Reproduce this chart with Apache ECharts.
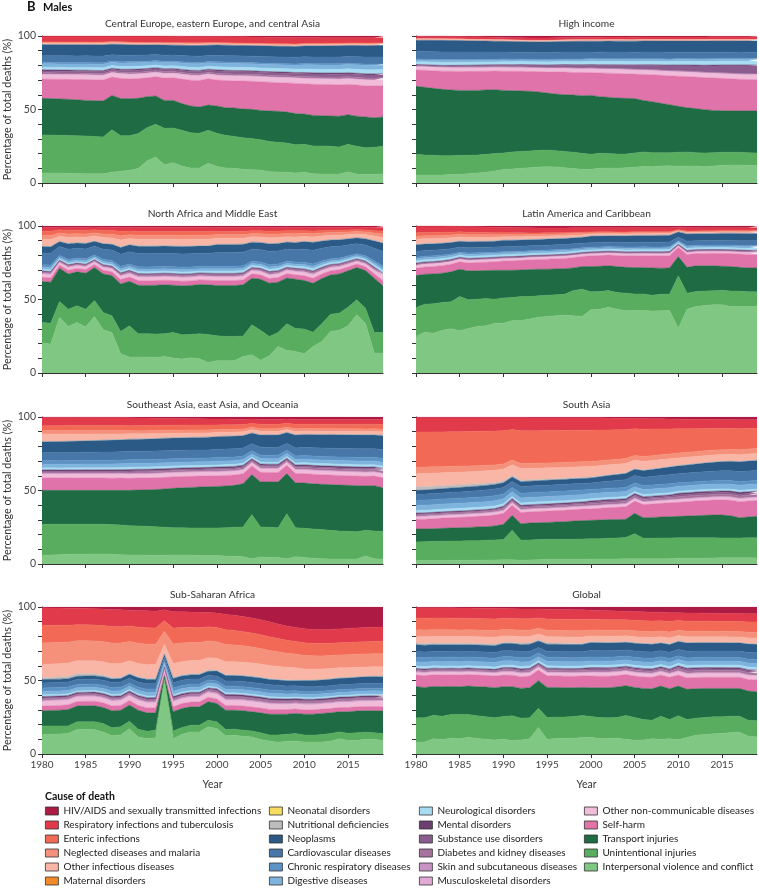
<!DOCTYPE html>
<html><head><meta charset="utf-8">
<script src="https://cdn.jsdelivr.net/npm/echarts/dist/echarts.min.js"></script>
<style>html,body{margin:0;padding:0;background:#fff}#c{width:759px;height:888px}</style>
</head><body><div id="c"></div>
<script>
const years=['1980','1981','1982','1983','1984','1985','1986','1987','1988','1989','1990','1991','1992','1993','1994','1995','1996','1997','1998','1999','2000','2001','2002','2003','2004','2005','2006','2007','2008','2009','2010','2011','2012','2013','2014','2015','2016','2017','2018','2019'];
const absent=[0,0,0,0,0,0,0,0,0,0,0,0,0,0,0,0,0,0,0,0,0,0,0,0,0,0,0,0,0,0,0,0,0,0,0,0,0,0,0,0];

// ---------- Central Europe, eastern Europe, and central Asia ----------
const ce_interp=[6.8,6.8,6.8,6.6,6.4,6.3,6.3,6.3,7.3,8,8.6,9.8,15,17.7,12.5,13.8,11.6,10.2,10.2,13.4,11.3,10.2,10,9.3,9,8.8,7.7,7.5,7.3,6.8,7.3,6.3,6.1,6.1,6.1,7.5,6.1,5.7,5.9,6.1];
const ce_unint=[25.9,25.8,25.6,25.7,25.7,25.7,25.3,25,29,24.2,23.6,23.8,22.6,22.3,24.7,23.6,24.2,24,23.6,22.4,22.5,22.2,21.7,21.5,21.2,20.7,20.6,20.2,19.9,19.2,19,18.9,19.1,18.9,18.4,18.8,18.9,18.3,18.4,18.9];
const ce_transport=[24.9,24.8,24.8,24.7,24.5,24.2,24.4,24.5,23.3,25.2,25.2,24,21.1,19.2,19,18.8,18.2,18.2,17.9,17.2,18.6,18.8,19.3,19.5,19.9,19.9,20.7,21.1,21.1,21.2,20.6,20.8,20.6,20.6,20.9,20.2,20.4,20.9,20.1,19.9];
const ce_selfharm=[13.1,13.2,13.3,13.4,13.7,14.1,14,14,13.2,14,14,14.1,13.9,14.5,16.4,16.8,17.7,18.1,18.6,19.1,19,19.8,19.7,20.4,20.4,20.6,20.6,20.4,20.6,21.3,21.6,22,22,22,21.9,21.3,21.7,21.3,21.6,21.3];
const ce_otherNcd=[3,3,3,3,3,3,3,3,3,3.1,3.1,3.1,3.2,3.2,3.2,3.2,3.3,3.3,3.3,3.3,3.4,3.4,3.4,3.5,3.5,3.5,3.5,3.6,3.6,3.6,3.7,3.7,3.7,3.7,3.8,3.8,3.8,3.8,3.8,3.8];
const ce_musculo=[0.2,0.2,0.2,0.2,0.2,0.2,0.2,0.2,0.2,0.2,0.2,0.2,0.2,0.2,0.2,0.2,0.2,0.2,0.2,0.2,0.2,0.2,0.2,0.2,0.2,0.2,0.2,0.2,0.2,0.2,0.2,0.2,0.2,0.2,0.2,0.2,0.2,0.2,0.2,0.2];
const ce_skin=[0.1,0.1,0.1,0.1,0.1,0.1,0.1,0.1,0.1,0.1,0.1,0.1,0.1,0.1,0.1,0.1,0.1,0.1,0.1,0.1,0.1,0.1,0.1,0.1,0.1,0.1,0.1,0.1,0.1,0.1,0.1,0.1,0.1,0.1,0.1,0.1,0.1,0.1,0.1,0.1];
const ce_diabetes=[1,1,1,1,1,1,1,1,1,1,1.1,1.1,1.1,1.1,1.1,1.1,1.1,1.1,1.1,1.1,1.2,1.2,1.2,1.2,1.2,1.2,1.2,1.2,1.2,1.2,1.3,1.3,1.3,1.3,1.3,1.3,1.3,1.3,1.3,1.3];
const ce_substance=[1.2,1.2,1.2,1.2,1.2,1.2,1.2,1.2,1.2,1.2,1.5,1.5,1.5,1.5,1.5,1.5,1.5,1.5,1.5,1.5,1.8,1.8,1.8,1.8,1.8,1.8,1.8,1.8,1.8,1.8,2,2,2,2,2,2,2,2,2,2];
const ce_mental=[0.8,0.8,0.8,0.8,0.8,0.8,0.8,0.8,0.8,0.8,0.8,0.8,0.8,0.8,0.8,0.8,0.8,0.8,0.8,0.8,0.8,0.8,0.8,0.8,0.8,0.8,0.8,0.8,0.8,0.8,0.8,0.8,0.8,0.8,0.8,0.8,0.8,0.8,0.8,0.8];
const ce_neuro=[1.8,1.8,1.8,1.8,1.8,1.9,1.9,1.9,1.9,1.9,2,2,2,2,2,2.1,2.1,2.1,2.1,2.1,2.3,2.3,2.3,2.3,2.3,2.4,2.4,2.4,2.4,2.4,2.6,2.6,2.6,2.6,2.6,2.8,2.8,2.8,2.8,2.8];
const ce_digestive=[2.3,2.3,2.3,2.3,2.3,2.3,2.3,2.3,2.3,2.3,2.5,2.5,2.5,2.5,2.5,2.5,2.5,2.5,2.5,2.5,2.7,2.7,2.7,2.7,2.7,2.7,2.7,2.7,2.7,2.7,3,3,3,3,3,3,3,3,3,3];
const ce_chronic=[1,1,1,1,1,1,1,1,1,1,0.9,0.9,0.9,0.9,0.9,0.9,0.9,0.9,0.9,0.9,0.9,0.9,0.9,0.9,0.9,0.9,0.9,0.9,0.9,0.9,0.8,0.8,0.8,0.8,0.8,0.8,0.8,0.8,0.8,0.8];
const ce_cardio=[4.5,4.5,4.5,4.5,4.5,4.5,4.5,4.5,4.5,4.5,4.5,4.5,4.5,4.5,4.5,4.5,4.5,4.5,4.5,4.5,4.7,4.7,4.7,4.7,4.7,4.7,4.7,4.7,4.7,4.7,4.8,4.8,4.8,4.8,4.8,4.8,4.8,4.8,4.8,4.8];
const ce_neoplasms=[7.5,7.5,7.5,7.5,7.5,7.5,7.5,7.5,7.5,7.5,7.4,7.4,7.4,7.4,7.4,7.4,7.4,7.4,7.4,7.4,7.6,7.6,7.6,7.6,7.6,7.6,7.6,7.6,7.6,7.6,7.8,7.8,7.8,7.8,7.8,7.8,7.8,7.8,7.8,7.8];
const ce_nutritional=[0.1,0.1,0.1,0.1,0.1,0.1,0.1,0.1,0.1,0.1,0.1,0.1,0.1,0.1,0.1,0.1,0.1,0.1,0.1,0.1,0.1,0.1,0.1,0.1,0.1,0.1,0.1,0.1,0.1,0.1,0.1,0.1,0.1,0.1,0.1,0.1,0.1,0.1,0.1,0.1];
const ce_otherInf=[1.3,1.3,1.3,1.3,1.3,1.3,1.3,1.3,1.3,1.3,1.3,1.3,1.3,1.3,1.3,1.3,1.3,1.3,1.3,1.3,1.2,1.2,1.2,1.2,1.2,1.2,1.2,1.2,1.2,1.2,1.2,1.2,1.2,1.2,1.2,1.2,1.2,1.2,1.2,1.2];
const ce_neglected=[0.2,0.2,0.2,0.2,0.2,0.2,0.2,0.2,0.2,0.2,0.2,0.2,0.2,0.2,0.2,0.2,0.2,0.2,0.2,0.2,0.2,0.2,0.2,0.2,0.2,0.2,0.2,0.2,0.2,0.2,0.2,0.2,0.2,0.2,0.2,0.2,0.2,0.2,0.2,0.2];
const ce_enteric=[0.3,0.3,0.3,0.3,0.3,0.3,0.3,0.3,0.3,0.3,0.3,0.3,0.3,0.3,0.3,0.3,0.3,0.3,0.3,0.3,0.3,0.3,0.3,0.3,0.3,0.3,0.3,0.3,0.3,0.3,0.3,0.3,0.3,0.3,0.3,0.3,0.3,0.3,0.3,0.3];
const ce_resp=[4,4,4,4,4,4,4,4,4,4,4.3,4.5,4.7,4.8,4.8,4.8,4.7,4.6,4.6,4.5,4.5,4.5,4.5,4.5,4.5,4.5,4.5,4.5,4.5,4.5,4.2,4.1,4,3.9,3.8,3.7,3.6,3.6,3.5,3.5];
const ce_hiv=[0,0,0,0,0,0,0,0,0,0,0,0,0,0,0,0.1,0.1,0.2,0.2,0.3,0.3,0.4,0.5,0.6,0.7,0.8,0.9,1,1,1.1,1.1,1.1,1.2,1.2,1.2,1.2,1.2,1.2,1.2,1.2];

// ---------- High income ----------
const hi_interp=[5.4,5.4,5.4,5.4,5.7,5.9,6.3,6.8,7.3,8.2,9.1,9.5,10,10.4,10.9,11.1,10.9,10.4,9.8,9.3,9.3,10,10.2,10,10.4,10.7,11.3,11.1,11.6,11.8,11.3,11.6,11.6,11.1,11.6,12,12.2,12.2,12,12];
const hi_unint=[14.1,13.6,13.4,13.2,12.9,12.9,12.5,12.2,12.2,11.8,11.3,11.6,11.5,11.4,11.3,11.3,11.1,11.1,11.1,10.9,10.2,10.2,9.8,9.7,9.3,9.7,9.8,9.5,9,8.8,9.6,9.5,9,9.3,9,8.9,8.7,8.7,8.6,8.4];
const hi_transport=[46.3,46.1,45.6,45.1,44.7,44.2,44.2,44,43.8,43.5,42.6,41.7,41.1,40.6,39.7,38.8,38.5,38.6,39,39.2,40.1,38.5,38.3,38.1,37.9,37,35.1,34.7,33.6,32.7,31.3,30.1,30,29.5,28.8,28.3,28.1,28.1,28.4,28.6];
const hi_selfharm=[11.3,11.8,12,12.3,12.7,13,13.2,13.4,13.3,13.4,13.9,14.1,14.5,14.7,15,15.4,16.1,16.5,16.3,16.6,16.4,17,17.2,17.5,17.4,17.4,18.4,19.1,19.8,20.2,21.1,21.8,22,22.2,22.5,22.5,22.4,22.2,22,21.7];
const hi_otherNcd=[2.3,2.3,2.3,2.3,2.3,2.4,2.4,2.4,2.4,2.4,2.5,2.5,2.5,2.5,2.5,2.6,2.6,2.6,2.6,2.6,2.7,2.7,2.7,2.8,2.8,2.8,2.9,2.9,2.9,3,3,3,3,3.1,3.1,3.1,3.2,3.2,3.2,3.2];
const hi_musculo=[0.2,0.2,0.2,0.2,0.2,0.2,0.2,0.2,0.2,0.2,0.2,0.2,0.2,0.2,0.2,0.2,0.2,0.2,0.2,0.2,0.2,0.2,0.2,0.2,0.2,0.2,0.2,0.2,0.2,0.2,0.2,0.2,0.2,0.2,0.2,0.2,0.2,0.2,0.2,0.2];
const hi_skin=[0.1,0.1,0.1,0.1,0.1,0.1,0.1,0.1,0.1,0.1,0.1,0.1,0.1,0.1,0.1,0.1,0.1,0.1,0.1,0.1,0.1,0.1,0.1,0.1,0.1,0.1,0.1,0.1,0.1,0.1,0.1,0.1,0.1,0.1,0.1,0.1,0.1,0.1,0.1,0.1];
const hi_diabetes=[0.5,0.5,0.5,0.5,0.5,0.5,0.5,0.5,0.5,0.5,0.5,0.5,0.5,0.5,0.5,0.5,0.5,0.5,0.5,0.5,0.5,0.5,0.5,0.5,0.5,0.5,0.5,0.5,0.5,0.5,0.5,0.5,0.5,0.5,0.5,0.5,0.5,0.5,0.5,0.5];
const hi_substance=[0.3,0.3,0.4,0.4,0.5,0.6,0.7,0.8,0.9,0.9,1,1.1,1.2,1.3,1.3,1.4,1.5,1.6,1.7,1.8,1.8,1.9,2,2.1,2.3,2.5,2.7,2.9,3.1,3.3,3.5,3.7,3.9,4.1,4.4,4.8,5.1,5.4,5.5,5.5];
const hi_mental=[0.4,0.4,0.4,0.4,0.4,0.4,0.4,0.4,0.4,0.4,0.4,0.4,0.4,0.4,0.4,0.5,0.5,0.5,0.5,0.5,0.5,0.5,0.5,0.5,0.5,0.5,0.5,0.5,0.5,0.5,0.6,0.6,0.6,0.6,0.6,0.6,0.6,0.6,0.6,0.6];
const hi_neuro=[2,2,2,2,2,2,2,2,2,2,2.2,2.2,2.2,2.2,2.2,2.2,2.2,2.2,2.2,2.2,2.4,2.4,2.4,2.4,2.4,2.4,2.4,2.4,2.4,2.4,2.6,2.6,2.6,2.6,2.6,2.7,2.7,2.7,2.7,2.7];
const hi_digestive=[1.3,1.3,1.3,1.3,1.3,1.3,1.3,1.3,1.3,1.3,1.3,1.3,1.3,1.3,1.3,1.3,1.3,1.3,1.3,1.3,1.3,1.3,1.3,1.3,1.3,1.3,1.3,1.3,1.3,1.3,1.3,1.3,1.3,1.3,1.3,1.3,1.3,1.3,1.3,1.3];
const hi_chronic=[0.6,0.6,0.6,0.6,0.6,0.6,0.6,0.6,0.6,0.6,0.6,0.6,0.6,0.6,0.6,0.6,0.6,0.6,0.6,0.6,0.6,0.6,0.6,0.6,0.6,0.6,0.6,0.6,0.6,0.6,0.6,0.6,0.6,0.6,0.6,0.6,0.6,0.6,0.6,0.6];
const hi_cardio=[5.2,5.2,5.2,5.2,5.2,5.2,5.2,5.2,5.2,5.2,5,5,5,5,5,5,5,5,5,5,4.7,4.7,4.7,4.7,4.7,4.7,4.7,4.7,4.7,4.7,4.4,4.4,4.4,4.4,4.4,4.3,4.3,4.3,4.3,4.3];
const hi_neoplasms=[7.8,7.8,7.8,7.8,7.8,7.8,7.8,7.8,7.8,7.8,7.8,7.8,7.8,7.8,7.8,7.8,7.8,7.8,7.8,7.8,7.8,7.8,7.8,7.8,7.8,7.8,7.8,7.8,7.8,7.8,7.8,7.8,7.8,7.8,7.8,7.8,7.8,7.8,7.8,7.8];
const hi_nutritional=[0.05,0.05,0.05,0.05,0.05,0.05,0.05,0.05,0.05,0.05,0.05,0.05,0.05,0.05,0.05,0.05,0.05,0.05,0.05,0.05,0.05,0.05,0.05,0.05,0.05,0.05,0.05,0.05,0.05,0.05,0.05,0.05,0.05,0.05,0.05,0.05,0.05,0.05,0.05,0.05];
const hi_otherInf=[1,1,1,1,1,1,1,1,1,1,1,1,1,1,1,1,1,1,1,1,1,1,1,1,1,1,1,1,1,1,1,1,1,1,1,1,1,1,1,1];
const hi_neglected=[0.1,0.1,0.1,0.1,0.1,0.1,0.1,0.1,0.1,0.1,0.1,0.1,0.1,0.1,0.1,0.1,0.1,0.1,0.1,0.1,0.1,0.1,0.1,0.1,0.1,0.1,0.1,0.1,0.1,0.1,0.1,0.1,0.1,0.1,0.1,0.1,0.1,0.1,0.1,0.1];
const hi_enteric=[0.1,0.1,0.1,0.1,0.1,0.1,0.1,0.1,0.1,0.1,0.1,0.1,0.1,0.1,0.1,0.1,0.1,0.1,0.1,0.1,0.1,0.1,0.1,0.1,0.1,0.1,0.1,0.1,0.1,0.1,0.1,0.1,0.1,0.1,0.1,0.1,0.1,0.1,0.1,0.1];
const hi_resp=[1.6,1.6,1.6,1.6,1.6,1.6,1.6,1.6,1.6,1.6,1.6,1.6,1.6,1.6,1.6,1.6,1.6,1.6,1.6,1.6,1.6,1.6,1.6,1.6,1.6,1.6,1.6,1.6,1.6,1.6,1.6,1.6,1.6,1.6,1.6,1.6,1.6,1.6,1.6,1.6];
const hi_hiv=[0.1,0.1,0.1,0.1,0.2,0.3,0.5,0.6,0.7,0.9,1,1.2,1.3,1.5,1.5,1.5,1.3,1.1,1,0.9,0.9,0.9,0.8,0.8,0.8,0.8,0.7,0.7,0.7,0.7,0.7,0.7,0.7,0.7,0.6,0.6,0.6,0.6,0.6,0.6];

// ---------- North Africa and Middle East ----------
const na_interp=[20.4,19.7,38,31.7,34.4,31.4,38.5,29.4,27.6,13.1,10.9,10.9,10.9,10.6,11.3,10.2,9.5,10.4,9.7,7.2,8.4,8.4,8.4,11.3,12.4,8.6,11.8,18.1,15.4,14.7,13.1,18.1,21.5,28.3,29,32.1,39.6,33.9,13.6,13.6];
const na_unint=[14,14.2,10.6,11.7,11.3,12,10.8,11.8,11.3,15.2,21.2,15.8,15.8,15.9,15.4,17.4,16.5,15.8,17,19,16.9,16.5,16.5,13.8,20.4,20.4,13.1,9.5,18.1,15.6,16.8,9.7,12,11.7,11.7,12.7,10.2,10.2,14,14];
const na_transport=[27.8,27.9,22.7,24,23.1,24.5,22.4,26.2,27.4,32.3,30.3,33,32.8,33.2,33.3,32.1,33.3,33.3,33.5,33.8,34.2,34.6,34.6,34.9,31.7,34.8,36.2,34.2,31.2,33.5,33,33.3,30.8,26.7,26.7,24.7,21.9,25.6,36.9,31.7];
const na_selfharm=[2.9,2.9,2.9,2.9,2.9,2.9,2.9,2.9,2.9,2.9,3,3,3,3,3,3,3,3,3,3,3.2,3.2,3.2,3.2,3.2,3.2,3.2,3.2,3.2,3.2,3.4,3.4,3.4,3.4,3.4,3.4,3.4,3.4,3.4,3.4];
const na_otherNcd=[2.3,2.3,2.3,2.3,2.3,2.3,2.3,2.3,2.3,2.3,2.3,2.3,2.3,2.3,2.3,2.3,2.3,2.3,2.3,2.3,2.4,2.4,2.4,2.4,2.4,2.4,2.4,2.4,2.4,2.4,2.5,2.5,2.5,2.5,2.5,2.5,2.5,2.5,2.5,2.5];
const na_musculo=[0.2,0.2,0.2,0.2,0.2,0.2,0.2,0.2,0.2,0.2,0.2,0.2,0.2,0.2,0.2,0.2,0.2,0.2,0.2,0.2,0.2,0.2,0.2,0.2,0.2,0.2,0.2,0.2,0.2,0.2,0.2,0.2,0.2,0.2,0.2,0.2,0.2,0.2,0.2,0.2];
const na_skin=[0.2,0.2,0.2,0.2,0.2,0.2,0.2,0.2,0.2,0.2,0.2,0.2,0.2,0.2,0.2,0.2,0.2,0.2,0.2,0.2,0.2,0.2,0.2,0.2,0.2,0.2,0.2,0.2,0.2,0.2,0.2,0.2,0.2,0.2,0.2,0.2,0.2,0.2,0.2,0.2];
const na_diabetes=[0.8,0.8,0.8,0.8,0.8,0.8,0.8,0.8,0.8,0.8,0.9,0.9,0.9,0.9,0.9,0.9,0.9,0.9,0.9,0.9,0.9,0.9,0.9,0.9,0.9,0.9,0.9,0.9,0.9,0.9,1,1,1,1,1,1,1,1,1,1];
const na_substance=[0.4,0.4,0.4,0.4,0.4,0.4,0.4,0.4,0.4,0.4,0.5,0.5,0.5,0.5,0.5,0.5,0.5,0.5,0.5,0.5,0.5,0.5,0.5,0.5,0.5,0.5,0.5,0.5,0.5,0.5,0.6,0.6,0.6,0.6,0.6,0.6,0.6,0.6,0.6,0.6];
const na_mental=[0.5,0.5,0.5,0.5,0.5,0.5,0.5,0.5,0.5,0.5,0.5,0.5,0.5,0.5,0.5,0.5,0.5,0.5,0.5,0.5,0.5,0.5,0.5,0.5,0.5,0.5,0.5,0.5,0.5,0.5,0.5,0.5,0.5,0.5,0.5,0.5,0.5,0.5,0.5,0.5];
const na_neuro=[1.2,1.2,1.2,1.2,1.2,1.2,1.2,1.2,1.2,1.2,1.3,1.3,1.3,1.3,1.3,1.3,1.3,1.3,1.3,1.3,1.5,1.5,1.5,1.5,1.5,1.5,1.5,1.5,1.5,1.5,1.6,1.6,1.6,1.6,1.6,1.6,1.6,1.6,1.6,1.6];
const na_digestive=[1.5,1.5,1.5,1.5,1.5,1.5,1.5,1.5,1.5,1.5,1.5,1.5,1.5,1.5,1.5,1.5,1.5,1.5,1.5,1.5,1.5,1.5,1.5,1.5,1.5,1.5,1.5,1.5,1.5,1.5,1.5,1.5,1.5,1.5,1.5,1.5,1.5,1.5,1.5,1.5];
const na_chronic=[1.6,1.6,1.6,1.6,1.6,1.6,1.6,1.6,1.6,1.6,1.6,1.6,1.6,1.6,1.6,1.6,1.6,1.6,1.6,1.6,1.6,1.6,1.6,1.6,1.6,1.6,1.6,1.6,1.6,1.6,1.6,1.6,1.6,1.6,1.6,1.6,1.6,1.6,1.6,1.6];
const na_cardio=[8,8,8,8,8,8,8,8,8,8,8.5,8.5,8.5,8.5,8.5,8.5,8.5,8.5,8.5,8.5,9,9,9,9,9,9,9,9,9,9,9.5,9.5,9.5,9.5,9.5,9.5,9.5,9.5,9.5,9.5];
const na_neoplasms=[4.5,4.5,4.5,4.5,4.5,4.5,4.5,4.5,4.5,4.5,4.8,4.8,4.8,4.8,4.8,4.8,4.8,4.8,4.8,4.8,5.2,5.2,5.2,5.2,5.2,5.2,5.2,5.2,5.2,5.2,5.5,5.5,5.5,5.5,5.5,5.5,5.5,5.5,5.5,5.5];
const na_nutritional=[0.4,0.4,0.4,0.4,0.4,0.4,0.4,0.4,0.4,0.4,0.3,0.3,0.3,0.3,0.3,0.3,0.3,0.3,0.3,0.3,0.2,0.2,0.2,0.2,0.2,0.2,0.2,0.2,0.2,0.2,0.2,0.2,0.2,0.2,0.2,0.2,0.2,0.2,0.2,0.2];
const na_otherInf=[4.5,4.5,4.5,4.5,4.5,4.5,4.5,4.5,4.5,4.5,4.2,4.2,4.2,4.2,4.2,4.2,4.2,4.2,4.2,4.2,3.8,3.8,3.8,3.8,3.8,3.8,3.8,3.8,3.8,3.8,3.5,3.5,3.5,3.5,3.5,3.5,3.5,3.5,3.5,3.5];
const na_neglected=[2.8,2.8,2.8,2.8,2.8,2.8,2.8,2.8,2.8,2.8,2.6,2.6,2.6,2.6,2.6,2.6,2.6,2.6,2.6,2.6,2.4,2.4,2.4,2.4,2.4,2.4,2.4,2.4,2.4,2.4,2.2,2.2,2.2,2.2,2.2,2.2,2.2,2.2,2.2,2.2];
const na_enteric=[2.9,2.9,2.9,2.9,2.9,2.9,2.9,2.9,2.9,2.9,2.5,2.5,2.5,2.5,2.5,2.5,2.5,2.5,2.5,2.5,2.1,2.1,2.1,2.1,2.1,2.1,2.1,2.1,2.1,2.1,1.8,1.8,1.8,1.8,1.8,1.8,1.8,1.8,1.8,1.8];
const na_resp=[2.5,2.5,2.5,2.5,2.5,2.5,2.5,2.5,2.5,2.5,2.5,2.5,2.5,2.5,2.5,2.5,2.5,2.5,2.5,2.5,2.5,2.5,2.5,2.5,2.5,2.5,2.5,2.5,2.5,2.5,2.5,2.5,2.5,2.5,2.5,2.5,2.5,2.5,2.5,2.5];
const na_hiv=[1,1,1,1,1,1,1,1,1,1,1,1,1,1,1,1,1,1,1,1,1,1,1,1,1,1,1,1,1,1,1,1,1,1,1,1,1,1,1,1];

// ---------- Latin America and Caribbean ----------
const la_interp=[24.9,27.8,27.1,29,30.1,28.7,30.3,31.7,32.1,33.9,33.9,35.7,35.7,36.7,38,38.5,38.9,39.4,38.9,38.5,43,43.4,44.8,43.4,42.3,42.5,42.5,42.1,42.3,42.5,30.5,43.4,45.2,45.9,46.4,46.4,45.2,45.2,45.2,45.2];
const la_unint=[19.7,19,20,19,18.3,23.3,19.5,18.5,18.6,16.3,17.2,15.7,16.3,15.3,14.5,14.4,14.3,14.2,17.2,18.5,12.2,12,11.3,11.4,12,11.3,11.3,10.8,11.3,11.1,35.6,10.9,10.2,9.8,9.5,9.9,10.5,10.5,10,10];
const la_transport=[21.7,20.4,20.3,19.9,20.4,18.6,19.6,19.4,19,19.7,18.8,18.5,18.1,18.4,18.1,17.7,17.6,17.4,15.4,15.4,17.2,17.2,16.8,17.6,17.6,17.9,17.9,18.6,17.7,17.9,13.1,17.6,17.5,17.2,17,16.3,16.7,16.2,16.3,16.3];
const la_selfharm=[5,5.1,5.2,5.4,5.6,5.8,6,6.2,6.4,6.7,7,7.2,7.4,7.6,7.7,7.8,7.9,8,8.2,8.3,8.5,8.6,8.7,8.8,8.9,9,9.1,9.2,9.3,9.4,9.5,9.6,9.6,9.7,9.8,9.8,9.9,9.9,10,10];
const la_otherNcd=[1.8,1.8,1.8,1.8,1.8,1.8,1.8,1.8,1.8,1.8,1.6,1.6,1.6,1.6,1.6,1.6,1.6,1.6,1.6,1.6,1.5,1.5,1.5,1.5,1.5,1.5,1.5,1.5,1.5,1.5,1.3,1.3,1.3,1.3,1.3,1.3,1.3,1.3,1.3,1.3];
const la_musculo=[0.2,0.2,0.2,0.2,0.2,0.2,0.2,0.2,0.2,0.2,0.2,0.2,0.2,0.2,0.2,0.2,0.2,0.2,0.2,0.2,0.2,0.2,0.2,0.2,0.2,0.2,0.2,0.2,0.2,0.2,0.2,0.2,0.2,0.2,0.2,0.2,0.2,0.2,0.2,0.2];
const la_skin=[0.1,0.1,0.1,0.1,0.1,0.1,0.1,0.1,0.1,0.1,0.1,0.1,0.1,0.1,0.1,0.1,0.1,0.1,0.1,0.1,0.1,0.1,0.1,0.1,0.1,0.1,0.1,0.1,0.1,0.1,0.1,0.1,0.1,0.1,0.1,0.1,0.1,0.1,0.1,0.1];
const la_diabetes=[0.6,0.6,0.6,0.6,0.6,0.6,0.6,0.6,0.6,0.6,0.6,0.6,0.6,0.6,0.6,0.6,0.6,0.6,0.6,0.6,0.6,0.6,0.6,0.6,0.6,0.6,0.6,0.6,0.6,0.6,0.6,0.6,0.6,0.6,0.6,0.6,0.6,0.6,0.6,0.6];
const la_substance=[0.3,0.3,0.3,0.3,0.3,0.3,0.3,0.3,0.3,0.3,0.3,0.3,0.3,0.3,0.3,0.3,0.3,0.3,0.3,0.3,0.3,0.3,0.3,0.3,0.3,0.3,0.3,0.3,0.3,0.3,0.3,0.3,0.3,0.3,0.3,0.3,0.3,0.3,0.3,0.3];
const la_mental=[0.5,0.5,0.5,0.5,0.5,0.5,0.5,0.5,0.5,0.5,0.5,0.5,0.5,0.5,0.5,0.5,0.5,0.5,0.5,0.5,0.5,0.5,0.5,0.5,0.5,0.5,0.5,0.5,0.5,0.5,0.5,0.5,0.5,0.5,0.5,0.5,0.5,0.5,0.5,0.5];
const la_neuro=[1.5,1.5,1.5,1.5,1.5,1.5,1.5,1.5,1.5,1.5,1.5,1.5,1.5,1.5,1.5,1.5,1.5,1.5,1.5,1.5,1.5,1.5,1.5,1.5,1.5,1.5,1.5,1.5,1.5,1.5,1.5,1.5,1.5,1.5,1.5,1.5,1.5,1.5,1.5,1.5];
const la_digestive=[1.5,1.5,1.5,1.5,1.5,1.5,1.5,1.5,1.5,1.5,1.4,1.4,1.4,1.4,1.4,1.4,1.4,1.4,1.4,1.4,1.3,1.3,1.3,1.3,1.3,1.3,1.3,1.3,1.3,1.3,1.2,1.2,1.2,1.2,1.2,1.2,1.2,1.2,1.2,1.2];
const la_chronic=[1,1,1,1,1,1,1,1,1,1,0.9,0.9,0.9,0.9,0.9,0.9,0.9,0.9,0.9,0.9,0.9,0.9,0.9,0.9,0.9,0.9,0.9,0.9,0.9,0.9,0.8,0.8,0.8,0.8,0.8,0.8,0.8,0.8,0.8,0.8];
const la_cardio=[4,4,4,4,4,4,4,4,4,4,3.8,3.8,3.8,3.8,3.8,3.8,3.8,3.8,3.8,3.8,3.6,3.6,3.6,3.6,3.6,3.6,3.6,3.6,3.6,3.6,3.5,3.5,3.5,3.5,3.5,3.5,3.5,3.5,3.5,3.5];
const la_neoplasms=[4.5,4.5,4.5,4.5,4.5,4.5,4.5,4.5,4.5,4.5,4.8,4.8,4.8,4.8,4.8,4.8,4.8,4.8,4.8,4.8,5.2,5.2,5.2,5.2,5.2,5.2,5.2,5.2,5.2,5.2,5.5,5.5,5.5,5.5,5.5,5.5,5.5,5.5,5.5,5.5];
const la_nutritional=[0.4,0.4,0.4,0.4,0.4,0.4,0.4,0.4,0.4,0.4,0.3,0.3,0.3,0.3,0.3,0.3,0.3,0.3,0.3,0.3,0.2,0.2,0.2,0.2,0.2,0.2,0.2,0.2,0.2,0.2,0.1,0.1,0.1,0.1,0.1,0.1,0.1,0.1,0.1,0.1];
const la_otherInf=[3.5,3.4,3.3,3.2,3.1,3,2.9,2.8,2.7,2.6,2.5,2.4,2.3,2.2,2.1,2,1.9,1.8,1.7,1.6,1.5,1.5,1.4,1.4,1.3,1.3,1.2,1.2,1.1,1.1,1,1,1,1,1,1,1,1,1,1];
const la_neglected=[2,2,2,2,2,2,2,2,2,2,1.5,1.5,1.5,1.5,1.5,1.5,1.5,1.5,1.5,1.5,0.9,0.9,0.9,0.9,0.9,0.9,0.9,0.9,0.9,0.9,0.5,0.5,0.5,0.5,0.5,0.5,0.5,0.5,0.5,0.5];
const la_enteric=[2.5,2.4,2.3,2.2,2.1,2,1.9,1.8,1.7,1.6,1.5,1.5,1.4,1.3,1.2,1.1,1,0.9,0.8,0.8,0.7,0.7,0.7,0.6,0.6,0.6,0.6,0.5,0.5,0.5,0.5,0.5,0.5,0.5,0.5,0.5,0.5,0.5,0.5,0.5];
const la_resp=[4.5,4.5,4.5,4.5,4.5,4.3,4.3,4.3,4.3,4.3,4,4,4,4,4,3.7,3.7,3.7,3.7,3.7,3.3,3.3,3.3,3.3,3.3,3,3,3,3,3,2.5,2.5,2.5,2.5,2.5,2.1,2.1,2.1,2.1,2.1];
const la_hiv=[0,0,0,0,0.1,0.2,0.4,0.6,0.8,1,1.1,1.2,1.3,1.4,1.5,1.5,1.5,1.5,1.4,1.4,1.4,1.4,1.4,1.4,1.4,1.4,1.4,1.4,1.4,1.4,1.3,1.3,1.3,1.3,1.3,1.3,1.3,1.3,1.3,1.3];

// ---------- Southeast Asia, east Asia, and Oceania ----------
const se_interp=[5.9,6.1,6.3,6.6,6.6,6.6,6.8,6.8,6.6,6.3,6.1,6.1,5.9,5.9,5.9,6.1,6.1,6.1,5.7,5.7,5.7,5.4,5.2,5,3.6,4.8,4.5,4.5,3.6,5,4.5,3.9,3.6,3.4,3.4,3.4,3.4,5.4,3.6,3.2];
const se_unint=[21.1,20.9,20.7,20.4,20.4,20.4,20.2,20.2,20.2,20.2,20,19.8,19.7,19.5,19.1,18.6,18.6,18.4,18.8,18.8,18.8,19.3,19.8,20.2,30,20.4,20.5,20.2,30.6,19.7,19.8,19.9,19.8,19.5,19,18.8,18.6,17.5,18.8,19];
const se_transport=[23.1,23.1,23.1,23.1,23.1,23.1,23.1,23.1,23.3,23.6,24,24.4,24.8,25.2,26,26.8,27.1,27.6,27.9,28.1,28.3,28.4,28.5,29.4,27.2,30.6,30.8,31.1,27.3,30.4,30.8,30.8,30.8,31.1,31.3,31.3,31.3,30.2,30.9,29.7];
const se_selfharm=[8.6,8.6,8.5,8.5,8.4,8.4,8.3,8.3,8.2,8.2,8.1,8.1,8,8,7.9,7.8,7.8,7.7,7.6,7.6,7.5,7.5,7.4,7.4,7.3,7.3,7.2,7.2,7.1,7.1,7,7,7,6.9,6.9,6.9,6.8,6.8,6.8,6.8];
const se_otherNcd=[2.7,2.7,2.7,2.7,2.7,2.7,2.7,2.7,2.7,2.7,2.7,2.7,2.7,2.7,2.7,2.7,2.7,2.7,2.7,2.7,2.7,2.7,2.7,2.7,2.7,2.7,2.7,2.7,2.7,2.7,2.7,2.7,2.7,2.7,2.7,2.7,2.7,2.7,2.7,2.7];
const se_musculo=[0.2,0.2,0.2,0.2,0.2,0.2,0.2,0.2,0.2,0.2,0.2,0.2,0.2,0.2,0.2,0.2,0.2,0.2,0.2,0.2,0.2,0.2,0.2,0.2,0.2,0.2,0.2,0.2,0.2,0.2,0.2,0.2,0.2,0.2,0.2,0.2,0.2,0.2,0.2,0.2];
const se_skin=[0.2,0.2,0.2,0.2,0.2,0.2,0.2,0.2,0.2,0.2,0.2,0.2,0.2,0.2,0.2,0.2,0.2,0.2,0.2,0.2,0.2,0.2,0.2,0.2,0.2,0.2,0.2,0.2,0.2,0.2,0.2,0.2,0.2,0.2,0.2,0.2,0.2,0.2,0.2,0.2];
const se_diabetes=[1,1,1,1,1,1,1,1,1,1,1.2,1.2,1.2,1.2,1.2,1.2,1.2,1.2,1.2,1.2,1.3,1.3,1.3,1.3,1.3,1.3,1.3,1.3,1.3,1.3,1.5,1.5,1.5,1.5,1.5,1.5,1.5,1.5,1.5,1.5];
const se_substance=[0.5,0.5,0.5,0.5,0.5,0.5,0.5,0.5,0.5,0.5,0.6,0.6,0.6,0.6,0.6,0.6,0.6,0.6,0.6,0.6,0.7,0.7,0.7,0.7,0.7,0.7,0.7,0.7,0.7,0.7,0.8,0.8,0.8,0.8,0.8,0.8,0.8,0.8,0.8,0.8];
const se_mental=[1,1,1,1,1,1,1,1,1,1,1,1,1,1,1,1,1,1,1,1,1.1,1.1,1.1,1.1,1.1,1.1,1.1,1.1,1.1,1.1,1.1,1.1,1.1,1.1,1.1,1.1,1.1,1.1,1.1,1.1];
const se_neuro=[1.4,1.4,1.4,1.4,1.4,1.4,1.4,1.4,1.4,1.4,1.5,1.5,1.5,1.5,1.5,1.5,1.5,1.5,1.5,1.5,1.5,1.5,1.5,1.5,1.5,1.5,1.5,1.5,1.5,1.5,1.6,1.6,1.6,1.6,1.6,1.6,1.6,1.6,1.6,1.6];
const se_digestive=[2.5,2.5,2.5,2.5,2.5,2.5,2.5,2.5,2.5,2.5,2.5,2.5,2.5,2.5,2.5,2.5,2.5,2.5,2.5,2.5,2.6,2.6,2.6,2.6,2.6,2.6,2.6,2.6,2.6,2.6,2.6,2.6,2.6,2.6,2.6,2.6,2.6,2.6,2.6,2.6];
const se_chronic=[2.5,2.5,2.5,2.5,2.5,2.5,2.5,2.5,2.5,2.5,2.5,2.5,2.5,2.5,2.5,2.5,2.5,2.5,2.5,2.5,2.6,2.6,2.6,2.6,2.6,2.6,2.6,2.6,2.6,2.6,2.6,2.6,2.6,2.6,2.6,2.6,2.6,2.6,2.6,2.6];
const se_cardio=[5.5,5.5,5.5,5.5,5.5,5.5,5.5,5.5,5.5,5.5,5.7,5.7,5.7,5.7,5.7,5.7,5.7,5.7,5.7,5.7,5.9,5.9,5.9,5.9,5.9,5.9,5.9,5.9,5.9,5.9,6.1,6.1,6.1,6.1,6.1,6.1,6.1,6.1,6.1,6.1];
const se_neoplasms=[7.6,7.6,7.7,7.7,7.8,7.8,7.9,7.9,8,8,8.1,8.1,8.2,8.3,8.4,8.5,8.6,8.7,8.8,8.9,9,9,9.1,9.1,9.2,9.3,9.4,9.5,9.5,9.6,9.6,9.7,9.7,9.8,9.8,9.8,9.8,9.8,9.8,9.8];
const se_nutritional=[0.2,0.2,0.2,0.2,0.2,0.2,0.2,0.2,0.2,0.2,0.2,0.2,0.2,0.2,0.2,0.2,0.2,0.2,0.2,0.2,0.2,0.2,0.2,0.2,0.2,0.2,0.2,0.2,0.2,0.2,0.2,0.2,0.2,0.2,0.2,0.2,0.2,0.2,0.2,0.2];
const se_otherInf=[5.2,5.1,5,4.9,4.7,4.5,4.3,4.1,3.9,3.7,3.5,3.4,3.3,3.2,3.1,3,3,2.9,2.9,2.8,2.8,2.7,2.7,2.6,2.6,2.5,2.5,2.5,2.4,2.4,2.4,2.4,2.3,2.3,2.3,2.3,2.3,2.3,2.3,2.3];
const se_neglected=[2.3,2.3,2.3,2.3,2.3,2.3,2.3,2.3,2.3,2.3,2.1,2.1,2.1,2.1,2.1,2.1,2.1,2.1,2.1,2.1,2,2,2,2,2,2,2,2,2,2,1.8,1.8,1.8,1.8,1.8,1.8,1.8,1.8,1.8,1.8];
const se_enteric=[3.4,3.4,3.4,3.4,3.4,3.4,3.4,3.4,3.4,3.4,3.4,3.4,3.4,3.4,3.4,3.4,3.4,3.4,3.4,3.4,3.3,3.3,3.3,3.3,3.3,3.3,3.3,3.3,3.3,3.3,3.2,3.2,3.2,3.2,3.2,3.2,3.2,3.2,3.2,3.2];
const se_resp=[5.9,5.8,5.8,5.7,5.7,5.6,5.6,5.5,5.5,5.4,5.3,5.2,5.1,4.9,4.7,4.6,4.5,4.4,4.3,4.2,4.1,4,3.9,3.9,3.8,3.8,3.7,3.7,3.6,3.6,3.5,3.5,3.5,3.4,3.4,3.4,3.4,3.4,3.4,3.4];
const se_hiv=[0.2,0.2,0.2,0.2,0.2,0.2,0.2,0.2,0.2,0.2,0.5,0.6,0.7,0.8,0.9,1,1.1,1.2,1.3,1.4,1.5,1.5,1.6,1.6,1.7,1.7,1.8,1.8,1.8,1.8,1.8,1.8,1.8,1.8,1.8,1.8,1.8,1.8,1.8,1.8];

// ---------- South Asia ----------
const sa_interp=[2.5,2.3,2.3,2.3,2.5,2.5,2.5,2.5,2.7,2.7,2.9,2.9,2.5,2.7,2.9,3.2,3.2,3.2,3.2,3.2,3.4,3.4,3.4,3.4,3.6,3.6,3.6,3.6,3.6,3.6,3.9,3.9,3.9,3.9,4.1,4.3,4.3,4.3,4.3,4.1];
const sa_unint=[12.5,12.9,13.1,13.1,13.1,13.1,13.3,13.4,13.4,13.6,13.7,20,13.6,13.6,13.7,13.6,13.6,13.6,13.6,13.8,13.8,13.8,14.1,14.3,14.5,17,13.9,13.9,14.1,14.1,14,14,14,14,13.8,13.4,13.4,13.4,13.6,13.8];
const sa_transport=[8.8,8.6,8.6,8.9,8.9,9.1,9.1,9.3,9.3,9.6,10.4,10.2,11.3,11.6,11.5,11.5,11.8,12,12.4,12.5,12.5,12.7,12.7,12.5,12.3,13.9,14,14.2,14.3,14.5,14.5,14.7,15,15.2,15.4,15.6,15.2,13.8,14.1,14.5];
const sa_selfharm=[6.6,6.7,6.8,6.9,7,7,7.1,7.2,7.3,7.4,7.5,7.5,7.6,7.6,7.7,7.7,7.8,7.8,7.9,7.9,7.9,8.1,8.3,8.5,8.7,8.9,9.1,9.3,9.5,9.7,9.9,10.1,10.3,10.5,10.6,10.7,10.8,10.9,10.9,10.9];
const sa_otherNcd=[1.6,1.6,1.6,1.6,1.6,1.6,1.6,1.6,1.6,1.6,1.6,1.6,1.6,1.6,1.6,1.6,1.6,1.6,1.6,1.6,1.7,1.7,1.7,1.7,1.7,1.7,1.7,1.7,1.7,1.7,1.8,1.8,1.8,1.8,1.8,1.8,1.8,1.8,1.8,1.8];
const sa_musculo=[0.2,0.2,0.2,0.2,0.2,0.2,0.2,0.2,0.2,0.2,0.2,0.2,0.2,0.2,0.2,0.2,0.2,0.2,0.2,0.2,0.2,0.2,0.2,0.2,0.2,0.2,0.2,0.2,0.2,0.2,0.2,0.2,0.2,0.2,0.2,0.2,0.2,0.2,0.2,0.2];
const sa_skin=[0.3,0.3,0.3,0.3,0.3,0.3,0.3,0.3,0.3,0.3,0.3,0.3,0.3,0.3,0.3,0.3,0.3,0.3,0.3,0.3,0.3,0.3,0.3,0.3,0.3,0.3,0.3,0.3,0.3,0.3,0.3,0.3,0.3,0.3,0.3,0.3,0.3,0.3,0.3,0.3];
const sa_diabetes=[1,1,1,1,1,1,1,1,1,1,1.2,1.2,1.2,1.2,1.2,1.2,1.2,1.2,1.2,1.2,1.4,1.4,1.4,1.4,1.4,1.4,1.4,1.4,1.4,1.4,1.6,1.6,1.6,1.6,1.6,1.6,1.6,1.6,1.6,1.6];
const sa_substance=[0.5,0.5,0.5,0.5,0.5,0.5,0.5,0.5,0.5,0.5,0.7,0.7,0.7,0.7,0.7,0.7,0.7,0.7,0.7,0.7,0.9,0.9,0.9,0.9,0.9,0.9,0.9,0.9,0.9,0.9,1.2,1.2,1.2,1.2,1.2,1.2,1.2,1.2,1.2,1.2];
const sa_mental=[0.7,0.7,0.7,0.7,0.7,0.7,0.7,0.7,0.7,0.7,0.9,0.9,0.9,0.9,0.9,0.9,0.9,0.9,0.9,0.9,1,1,1,1,1,1,1,1,1,1,1.2,1.2,1.2,1.2,1.2,1.2,1.2,1.2,1.2,1.2];
const sa_neuro=[1.8,1.8,1.8,1.8,1.8,1.8,1.8,1.8,1.8,1.8,1.6,1.6,1.6,1.6,1.6,1.6,1.6,1.6,1.6,1.6,1.5,1.5,1.5,1.5,1.5,1.5,1.5,1.5,1.5,1.5,1.4,1.4,1.4,1.4,1.4,1.4,1.4,1.4,1.4,1.4];
const sa_digestive=[3.4,3.4,3.4,3.4,3.4,3.4,3.4,3.4,3.4,3.4,3.4,3.4,3.4,3.4,3.4,3.4,3.4,3.4,3.4,3.4,3.5,3.5,3.5,3.5,3.5,3.5,3.5,3.5,3.5,3.5,3.5,3.5,3.5,3.5,3.5,3.5,3.5,3.5,3.5,3.5];
const sa_chronic=[3.4,3.4,3.4,3.4,3.4,3.4,3.4,3.4,3.4,3.4,3.2,3.2,3.2,3.2,3.2,3.2,3.2,3.2,3.2,3.2,2.8,2.8,2.8,2.8,2.8,2.8,2.8,2.8,2.8,2.8,2.4,2.4,2.4,2.4,2.4,2.4,2.4,2.4,2.4,2.4];
const sa_cardio=[4.1,4.1,4.2,4.2,4.3,4.3,4.4,4.4,4.5,4.5,4.5,4.5,4.5,4.5,4.5,4.5,4.5,4.5,4.5,4.5,4.5,4.7,4.9,5.1,5.3,5.5,5.7,5.9,6.1,6.3,6.4,6.5,6.6,6.7,6.8,6.8,6.8,6.8,6.8,6.8];
const sa_neoplasms=[2.7,2.7,2.8,2.8,2.9,2.9,3,3,3.1,3.1,3.2,3.2,3.3,3.3,3.3,3.4,3.4,3.4,3.4,3.4,3.5,3.7,3.9,4.1,4.3,4.5,4.7,4.9,5.1,5.3,5.5,5.7,5.9,6.1,6.3,6.5,6.6,6.7,6.8,6.8];
const sa_nutritional=[2.3,2.2,2.1,2,1.9,1.8,1.7,1.6,1.5,1.4,1.3,1.2,1.1,1,0.9,0.9,0.8,0.8,0.7,0.7,0.7,0.6,0.6,0.5,0.5,0.5,0.4,0.4,0.4,0.4,0.3,0.3,0.3,0.3,0.3,0.3,0.3,0.3,0.3,0.3];
const sa_otherInf=[9.1,9,8.9,8.8,8.7,8.6,8.5,8.4,8.3,8.2,8.1,8,7.9,7.8,7.7,7.6,7.5,7.4,7.4,7.3,7.2,7,6.8,6.6,6.4,6.2,6,5.8,5.6,5.4,5.2,5.1,5,4.9,4.8,4.7,4.6,4.5,4.5,4.5];
const sa_neglected=[4.5,4.4,4.3,4.2,4.1,4,3.9,3.8,3.7,3.6,3.5,3.5,3.4,3.4,3.4,3.4,3.4,3.4,3.4,3.4,3.4,3.4,3.4,3.4,3.4,3.4,3.4,3.4,3.4,3.4,3.4,3.4,3.4,3.4,3.4,3.4,3.4,3.4,3.4,3.4];
const sa_enteric=[23.8,23.8,23.7,23.6,23.5,23.4,23.3,23.2,23,22.8,22.6,22.5,22.4,22.3,22.2,22.1,22,21.8,21.7,21.6,21.5,21.1,20.7,20.3,19.9,19.5,19,18.5,18,17.5,17,16.6,16.2,15.8,15.4,15,14.6,14.2,13.9,13.6];
const sa_resp=[9.8,9.8,9.7,9.7,9.6,9.5,9.4,9.3,9.2,9.1,9,8.9,8.9,8.8,8.8,8.7,8.7,8.7,8.6,8.6,8.6,8.4,8.2,8,7.8,7.6,7.4,7.2,7,6.9,6.8,6.7,6.6,6.5,6.4,6.3,6.2,6.2,6.1,6.1];
const sa_hiv=[0.4,0.4,0.4,0.4,0.4,0.4,0.4,0.4,0.4,0.4,0.4,0.4,0.4,0.5,0.5,0.5,0.5,0.5,0.5,0.5,0.5,0.6,0.7,0.8,0.9,1,1.1,1.2,1.3,1.4,1.5,1.5,1.6,1.6,1.7,1.7,1.8,1.8,1.8,1.8];

// ---------- Sub-Saharan Africa ----------
const ss_interp=[13.2,13.4,13.6,13.9,16.6,16.8,16.6,15,12.5,13,17.1,11.6,10.5,10.9,50.3,10.3,13.4,15,15,18.5,17.3,12.5,12.8,12.1,11.6,9.8,8.9,8,8.7,8.7,8.2,8.2,8.2,8.7,10.3,9.3,9.3,10,10,9.1];
const ss_unint=[5.9,5.7,5.5,5.2,5.3,5.1,5.3,5.7,5.3,5.5,5.2,5.3,5,5.3,0.5,5.4,4.6,4.6,4.6,4.5,4.6,4.1,4.1,4.1,4.1,4.6,4.1,5,4.7,5.2,4.8,4.6,5,5.2,4.7,4.8,5.1,4.8,4.4,4.8];
const ss_transport=[10.3,10.5,10.7,11.2,10.7,10.9,10.9,11,11.6,11.3,11,12.9,12.5,11.8,2.3,13,13,12.5,12.5,12.5,12.5,13.2,12.9,13.2,13,13.6,14.1,14.1,13.7,13.7,14.1,14.3,14.4,14.1,13.7,14.6,14.8,14.6,15,15.3];
const ss_selfharm=[3.2,3.2,3.2,3.2,3.2,3.2,3.2,3.2,3.2,3.2,3.2,3.2,3.2,3.2,3.2,3.2,3.2,3.2,3.2,3.2,3.1,3.1,3.1,3.1,3.1,3.1,3.1,3.1,3.1,3.1,3,3,3,3,3,3,3,3,3,3];
const ss_otherNcd=[3,3,3,3,3,3,3,3,3,3,3.1,3.1,3.1,3.1,3.1,3.1,3.1,3.1,3.1,3.1,3.3,3.3,3.3,3.3,3.3,3.3,3.3,3.3,3.3,3.3,3.4,3.4,3.4,3.4,3.4,3.4,3.4,3.4,3.4,3.4];
const ss_musculo=[0.3,0.3,0.3,0.3,0.3,0.3,0.3,0.3,0.3,0.3,0.3,0.3,0.3,0.3,0.3,0.3,0.3,0.3,0.3,0.3,0.3,0.3,0.3,0.3,0.3,0.3,0.3,0.3,0.3,0.3,0.3,0.3,0.3,0.3,0.3,0.3,0.3,0.3,0.3,0.3];
const ss_skin=[0.6,0.6,0.6,0.6,0.6,0.6,0.6,0.6,0.6,0.6,0.6,0.6,0.6,0.6,0.6,0.6,0.6,0.6,0.6,0.6,0.6,0.6,0.6,0.6,0.6,0.6,0.6,0.6,0.6,0.6,0.6,0.6,0.6,0.6,0.6,0.6,0.6,0.6,0.6,0.6];
const ss_diabetes=[1.2,1.2,1.2,1.2,1.2,1.2,1.2,1.2,1.2,1.2,1.3,1.3,1.3,1.3,1.3,1.3,1.3,1.3,1.3,1.3,1.4,1.4,1.4,1.4,1.4,1.4,1.4,1.4,1.4,1.4,1.5,1.5,1.5,1.5,1.5,1.5,1.5,1.5,1.5,1.5];
const ss_substance=[0.3,0.3,0.3,0.3,0.3,0.3,0.3,0.3,0.3,0.3,0.3,0.3,0.3,0.3,0.3,0.3,0.3,0.3,0.3,0.3,0.4,0.4,0.4,0.4,0.4,0.4,0.4,0.4,0.4,0.4,0.4,0.4,0.4,0.4,0.4,0.4,0.4,0.4,0.4,0.4];
const ss_mental=[1,1,1,1,1,1,1,1,1,1,1,1,1,1,1,1,1,1,1,1,1.1,1.1,1.1,1.1,1.1,1.1,1.1,1.1,1.1,1.1,1.1,1.1,1.1,1.1,1.1,1.1,1.1,1.1,1.1,1.1];
const ss_neuro=[1.1,1.1,1.1,1.1,1.1,1.1,1.1,1.1,1.1,1.1,1.1,1.1,1.1,1.1,1.1,1.1,1.1,1.1,1.1,1.1,1.1,1.1,1.1,1.1,1.1,1.1,1.1,1.1,1.1,1.1,1.1,1.1,1.1,1.1,1.1,1.1,1.1,1.1,1.1,1.1];
const ss_digestive=[2.3,2.3,2.3,2.3,2.3,2.3,2.3,2.3,2.3,2.3,2.3,2.3,2.3,2.3,2.3,2.3,2.3,2.3,2.3,2.3,2.3,2.3,2.3,2.3,2.3,2.3,2.3,2.3,2.3,2.3,2.3,2.3,2.3,2.3,2.3,2.3,2.3,2.3,2.3,2.3];
const ss_chronic=[2.3,2.3,2.3,2.3,2.3,2.3,2.3,2.3,2.3,2.3,2.1,2.1,2.1,2.1,2.1,2.1,2.1,2.1,2.1,2.1,2,2,2,2,2,2,2,2,2,2,1.8,1.8,1.8,1.8,1.8,1.8,1.8,1.8,1.8,1.8];
const ss_cardio=[3.4,3.4,3.4,3.4,3.4,3.4,3.4,3.4,3.4,3.4,3.4,3.4,3.4,3.4,3.4,3.4,3.4,3.4,3.4,3.4,3.4,3.4,3.4,3.4,3.4,3.4,3.4,3.4,3.4,3.4,3.4,3.4,3.4,3.4,3.4,3.4,3.4,3.4,3.4,3.4];
const ss_neoplasms=[2.3,2.3,2.3,2.3,2.3,2.3,2.3,2.3,2.3,2.3,2.8,2.8,2.8,2.8,2.8,2.8,2.8,2.8,2.8,2.8,3.5,3.5,3.5,3.5,3.5,3.5,3.5,3.5,3.5,3.5,4.2,4.3,4.4,4.5,4.6,4.6,4.6,4.6,4.6,4.6];
const ss_nutritional=[1.1,1.2,1.4,1.6,1.8,1.8,1.5,1.2,1,0.9,0.8,0.8,0.8,0.8,0.8,0.8,0.8,0.8,0.8,0.8,0.6,0.6,0.6,0.6,0.6,0.6,0.6,0.6,0.6,0.6,0.4,0.4,0.4,0.4,0.4,0.4,0.4,0.4,0.4,0.4];
const ss_otherInf=[9.1,9.1,9.1,9.1,9.1,9.1,9.1,9.1,9.1,9.1,8.8,8.8,8.8,8.8,8.8,8.8,8.8,8.8,8.8,8.8,8.4,8.4,8.4,8.4,8.4,8.4,8.4,8.4,8.4,8.4,7.6,7.4,7.2,7,6.8,6.6,6.5,6.4,6.4,6.4];
const ss_neglected=[14.4,14.4,14.3,14.2,14.1,14,13.9,13.8,13.7,13.6,13.5,13.4,13.2,13,12.8,12.6,12.4,12.2,12,11.8,11.5,11.2,10.9,10.6,10.3,10,9.8,9.6,9.5,9.4,9.3,9.2,9.1,9.1,9,9,9,9,9,9];
const ss_enteric=[11.8,11.7,11.6,11.5,11.4,11.3,11.2,11.1,11,10.9,10.8,10.7,10.6,10.5,10.4,10.3,10.2,10.1,10,9.9,9.8,9.6,9.4,9.2,9.1,9,8.9,8.8,8.7,8.7,8.7,8.6,8.6,8.5,8.5,8.5,8.4,8.4,8.4,8.4];
const ss_resp=[11.8,11.8,11.7,11.7,11.6,11.6,11.5,11.4,11.3,11.2,11.1,11,10.9,10.8,10.7,10.6,10.5,10.4,10.3,10.2,10.1,10,9.9,9.8,9.7,9.7,9.6,9.6,9.6,9.6,9.6,9.6,9.7,9.7,9.7,9.8,9.8,9.8,9.8,9.8];
const ss_hiv=[0.5,0.6,0.7,0.8,0.9,1,1.2,1.4,1.6,1.9,2.2,2.4,2.5,2.7,2.8,3,3.2,3.4,3.6,3.8,4.2,4.8,5.4,6.2,7.1,8.2,9.6,11.2,12.8,14.1,15,15.5,15.8,15.6,15.3,14.9,14.5,14.2,13.9,13.7];

// ---------- Global ----------
const gl_interp=[8.2,8.2,10.3,9.8,10.7,10.3,11.4,10.5,10,9.6,10,9.1,9.6,10.3,18,10,10.5,10.7,10.7,11.2,11.4,10.5,10.5,10.7,10,9.3,9.6,10.3,10,10.3,9.8,11.2,12.8,13.2,13.7,13.9,14.6,14.8,12.1,11.6];
const gl_unint=[16.4,16.4,16.1,15.9,16.2,16.6,15.5,15.5,15.3,15,15.5,16.9,14.8,14.3,13.2,14.8,14.6,14.4,14.8,15,14.1,14.3,14.1,14.1,16.2,15.5,13.9,12.7,15.7,13.2,16.2,12.3,11.6,11.6,11.6,11.4,11.1,10.9,10.9,11];
const gl_transport=[21.2,20.7,19.6,20.1,19.1,18.9,19.3,19.8,20.3,20.5,20.3,19.8,20.2,20.5,18.7,20.5,20.2,20,19.6,19.1,19.6,20.3,20.5,20.8,20.3,20.5,21.1,21.4,20.5,20.9,20.2,20.5,20,19.8,19.3,19.3,18.9,18.9,19.8,19.8];
const gl_selfharm=[8,8,8,8,8,8,8,8,8,8,8,8,8,8,8,8,8,8,8,8,8,8,8,8,8,8,8,8,8,8,8,8,8,8,8,8,8,8,8,8];
const gl_otherNcd=[1.8,1.8,1.8,1.8,1.8,1.8,1.8,1.8,1.8,1.8,2.1,2.1,2.1,2.1,2.1,2.1,2.1,2.1,2.1,2.1,2.4,2.4,2.4,2.4,2.4,2.4,2.4,2.4,2.4,2.4,2.7,2.7,2.7,2.7,2.7,2.7,2.7,2.7,2.7,2.7];
const gl_musculo=[0.2,0.2,0.2,0.2,0.2,0.2,0.2,0.2,0.2,0.2,0.2,0.2,0.2,0.2,0.2,0.2,0.2,0.2,0.2,0.2,0.2,0.2,0.2,0.2,0.2,0.2,0.2,0.2,0.2,0.2,0.2,0.2,0.2,0.2,0.2,0.2,0.2,0.2,0.2,0.2];
const gl_skin=[0.3,0.3,0.3,0.3,0.3,0.3,0.3,0.3,0.3,0.3,0.3,0.3,0.3,0.3,0.3,0.3,0.3,0.3,0.3,0.3,0.3,0.3,0.3,0.3,0.3,0.3,0.3,0.3,0.3,0.3,0.3,0.3,0.3,0.3,0.3,0.3,0.3,0.3,0.3,0.3];
const gl_diabetes=[1,1,1,1,1,1,1,1,1,1,1.2,1.2,1.2,1.2,1.2,1.2,1.2,1.2,1.2,1.2,1.3,1.3,1.3,1.3,1.3,1.3,1.3,1.3,1.3,1.3,1.5,1.5,1.5,1.5,1.5,1.5,1.5,1.5,1.5,1.5];
const gl_substance=[0.5,0.5,0.5,0.5,0.5,0.5,0.5,0.5,0.5,0.5,0.7,0.7,0.7,0.7,0.7,0.7,0.7,0.7,0.7,0.7,0.9,0.9,0.9,0.9,0.9,0.9,0.9,0.9,0.9,0.9,1.2,1.2,1.2,1.2,1.2,1.2,1.2,1.2,1.2,1.2];
const gl_mental=[0.7,0.7,0.7,0.7,0.7,0.7,0.7,0.7,0.7,0.7,0.8,0.8,0.8,0.8,0.8,0.8,0.8,0.8,0.8,0.8,0.8,0.8,0.8,0.8,0.8,0.8,0.8,0.8,0.8,0.8,0.9,0.9,0.9,0.9,0.9,0.9,0.9,0.9,0.9,0.9];
const gl_neuro=[1.6,1.6,1.6,1.6,1.6,1.6,1.6,1.6,1.6,1.6,1.6,1.6,1.6,1.6,1.6,1.6,1.6,1.6,1.6,1.6,1.7,1.7,1.7,1.7,1.7,1.7,1.7,1.7,1.7,1.7,1.8,1.8,1.8,1.8,1.8,1.8,1.8,1.8,1.8,1.8];
const gl_digestive=[3,3,3,3,3,3,3,3,3,3,3,3,3,3,3,3,3,3,3,3,2.8,2.8,2.8,2.8,2.8,2.8,2.8,2.8,2.8,2.8,2.7,2.7,2.7,2.7,2.7,2.7,2.7,2.7,2.7,2.7];
const gl_chronic=[3,3,3,3,3,3,3,3,3,3,2.9,2.9,2.9,2.9,2.9,2.9,2.9,2.9,2.9,2.9,2.8,2.8,2.8,2.8,2.8,2.8,2.8,2.8,2.8,2.8,2.7,2.7,2.7,2.7,2.7,2.7,2.7,2.7,2.7,2.7];
const gl_cardio=[3.9,3.9,3.9,3.9,3.9,3.9,3.9,3.9,3.9,3.9,4.1,4.1,4.1,4.1,4.1,4.1,4.1,4.1,4.1,4.1,4.4,4.4,4.4,4.4,4.4,4.4,4.4,4.4,4.4,4.4,4.6,4.6,4.6,4.6,4.6,4.6,4.6,4.6,4.6,4.6];
const gl_neoplasms=[4.6,4.6,4.6,4.6,4.6,4.6,4.6,4.6,4.6,4.6,5,5,5,5,5,5,5,5,5,5,5.5,5.5,5.5,5.5,5.5,5.5,5.5,5.5,5.5,5.5,5.9,5.9,5.9,5.9,5.9,5.9,5.9,5.9,5.9,5.9];
const gl_nutritional=[1.1,1.1,1.1,1.1,1.1,1.1,1.1,1.1,1.1,1.1,0.8,0.8,0.8,0.8,0.8,0.8,0.8,0.8,0.8,0.8,0.5,0.5,0.5,0.5,0.5,0.5,0.5,0.5,0.5,0.5,0.3,0.3,0.3,0.3,0.3,0.3,0.3,0.3,0.3,0.3];
const gl_otherInf=[4.6,4.6,4.6,4.6,4.6,4.6,4.6,4.6,4.6,4.6,4.4,4.4,4.4,4.4,4.4,4.4,4.4,4.4,4.4,4.4,4.1,4.1,4.1,4.1,4.1,4.1,4.1,4.1,4.1,4.1,3.9,3.9,3.9,3.9,3.9,3.9,3.9,3.9,3.9,3.9];
const gl_neglected=[4.6,4.6,4.6,4.6,4.6,4.6,4.6,4.6,4.6,4.6,4.4,4.4,4.4,4.4,4.4,4.4,4.4,4.4,4.4,4.4,4.1,4.1,4.1,4.1,4.1,4.1,4.1,4.1,4.1,4.1,3.9,3.9,3.9,3.9,3.9,3.9,3.9,3.9,3.9,3.9];
const gl_enteric=[8,8,8,8,8,8,8,8,8,8,7.8,7.8,7.8,7.8,7.8,7.8,7.8,7.8,7.8,7.8,7.4,7.4,7.4,7.4,7.4,7.4,7.4,7.4,7.4,7.4,7.1,7.1,7.1,7.1,7.1,7.1,7.1,7.1,7.1,7.1];
const gl_resp=[7.1,7.1,7.1,7.1,7.1,7.1,7.1,7.1,7.1,7.1,6.7,6.7,6.7,6.7,6.7,6.7,6.7,6.7,6.7,6.7,6.2,6.2,6.2,6.2,6.2,6.2,6.2,6.2,6.2,6.2,5.7,5.7,5.7,5.7,5.7,5.7,5.7,5.7,5.7,5.7];
const gl_hiv=[0.5,0.5,0.5,0.5,0.6,0.6,0.7,0.8,0.9,1,1.1,1.2,1.3,1.4,1.5,1.6,1.7,1.8,1.9,2,2.2,2.4,2.6,2.8,3,3.2,3.4,3.6,3.8,4,4.1,4.2,4.3,4.4,4.5,4.5,4.6,4.6,4.6,4.6];

// ---------- names & styles ----------
const causeNames=['Interpersonal violence and conflict','Unintentional injuries','Transport injuries','Self-harm','Other non-communicable diseases','Musculoskeletal disorders','Skin and subcutaneous diseases','Diabetes and kidney diseases','Substance use disorders','Mental disorders','Neurological disorders','Digestive diseases','Chronic respiratory diseases','Cardiovascular diseases','Neoplasms','Nutritional deficiencies','Neonatal disorders','Maternal disorders','Other infectious diseases','Neglected diseases and malaria','Enteric infections','Respiratory infections and tuberculosis','HIV/AIDS and sexually transmitted infections'];
const causeColors=['#80c783','#58ad5f','#1f6b43','#e073a9','#f0bcd9','#e0a9d6','#c994c3','#a8729e','#8b5d8f','#6b3f6e','#a8dcf2','#7db3dc','#5c92c4','#4677a8','#2b5a86','#bcbcbc','#f7dc60','#f28a2a','#f9b5a5','#f5907a','#f26a55','#e03a4b','#ad1a43'];
const panelTitles=['Central Europe, eastern Europe, and central Asia','High income','North Africa and Middle East','Latin America and Caribbean','Southeast Asia, east Asia, and Oceania','South Asia','Sub-Saharan Africa','Global'];
const legendCols=[
 ['HIV/AIDS and sexually transmitted infections','Respiratory infections and tuberculosis','Enteric infections','Neglected diseases and malaria','Other infectious diseases','Maternal disorders'],
 ['Neonatal disorders','Nutritional deficiencies','Neoplasms','Cardiovascular diseases','Chronic respiratory diseases','Digestive diseases'],
 ['Neurological disorders','Mental disorders','Substance use disorders','Diabetes and kidney diseases','Skin and subcutaneous diseases','Musculoskeletal disorders'],
 ['Other non-communicable diseases','Self-harm','Transport injuries','Unintentional injuries','Interpersonal violence and conflict']
];

const panels=[
 {lower:[ce_interp,ce_unint,ce_transport],upper:[ce_selfharm,ce_otherNcd,ce_musculo,ce_skin,ce_diabetes,ce_substance,ce_mental,ce_neuro,ce_digestive,ce_chronic,ce_cardio,ce_neoplasms,ce_nutritional,absent,absent,ce_otherInf,ce_neglected,ce_enteric,ce_resp,ce_hiv]},
 {lower:[hi_interp,hi_unint,hi_transport],upper:[hi_selfharm,hi_otherNcd,hi_musculo,hi_skin,hi_diabetes,hi_substance,hi_mental,hi_neuro,hi_digestive,hi_chronic,hi_cardio,hi_neoplasms,hi_nutritional,absent,absent,hi_otherInf,hi_neglected,hi_enteric,hi_resp,hi_hiv]},
 {lower:[na_interp,na_unint,na_transport],upper:[na_selfharm,na_otherNcd,na_musculo,na_skin,na_diabetes,na_substance,na_mental,na_neuro,na_digestive,na_chronic,na_cardio,na_neoplasms,na_nutritional,absent,absent,na_otherInf,na_neglected,na_enteric,na_resp,na_hiv]},
 {lower:[la_interp,la_unint,la_transport],upper:[la_selfharm,la_otherNcd,la_musculo,la_skin,la_diabetes,la_substance,la_mental,la_neuro,la_digestive,la_chronic,la_cardio,la_neoplasms,la_nutritional,absent,absent,la_otherInf,la_neglected,la_enteric,la_resp,la_hiv]},
 {lower:[se_interp,se_unint,se_transport],upper:[se_selfharm,se_otherNcd,se_musculo,se_skin,se_diabetes,se_substance,se_mental,se_neuro,se_digestive,se_chronic,se_cardio,se_neoplasms,se_nutritional,absent,absent,se_otherInf,se_neglected,se_enteric,se_resp,se_hiv]},
 {lower:[sa_interp,sa_unint,sa_transport],upper:[sa_selfharm,sa_otherNcd,sa_musculo,sa_skin,sa_diabetes,sa_substance,sa_mental,sa_neuro,sa_digestive,sa_chronic,sa_cardio,sa_neoplasms,sa_nutritional,absent,absent,sa_otherInf,sa_neglected,sa_enteric,sa_resp,sa_hiv]},
 {lower:[ss_interp,ss_unint,ss_transport],upper:[ss_selfharm,ss_otherNcd,ss_musculo,ss_skin,ss_diabetes,ss_substance,ss_mental,ss_neuro,ss_digestive,ss_chronic,ss_cardio,ss_neoplasms,ss_nutritional,absent,absent,ss_otherInf,ss_neglected,ss_enteric,ss_resp,ss_hiv]},
 {lower:[gl_interp,gl_unint,gl_transport],upper:[gl_selfharm,gl_otherNcd,gl_musculo,gl_skin,gl_diabetes,gl_substance,gl_mental,gl_neuro,gl_digestive,gl_chronic,gl_cardio,gl_neoplasms,gl_nutritional,absent,absent,gl_otherInf,gl_neglected,gl_enteric,gl_resp,gl_hiv]}
];

// percentages of total deaths: the remaining causes share what the injury groups leave
function toPercent(p){
  const out=p.lower.map(a=>a.slice()).concat(p.upper.map(()=>[]));
  for(let i=0;i<years.length;i++){
    let low=0,up=0;
    p.lower.forEach(a=>low+=a[i]);
    p.upper.forEach(a=>up+=a[i]);
    const f=(100-low)/up;
    p.upper.forEach((a,k)=>{out[3+k][i]=+(a[i]*f).toFixed(3);});
  }
  return out;
}

const FONT='Lato, "Noto Sans", sans-serif';
const chart=echarts.init(document.getElementById('c'));
const grids=[],xAxes=[],yAxes=[],series=[],graphics=[];
const rowTops=[36,226,417,607];
panels.forEach((p,i)=>{
  const col=i%2,row=Math.floor(i/2);
  const left=col===0?42:416,top=rowTops[row];
  grids.push({left:left,top:top,width:341,height:147});
  xAxes.push({gridIndex:i,type:'category',data:years,boundaryGap:false,
    axisLine:{lineStyle:{color:'#333',width:1}},
    axisTick:{interval:4,length:4,lineStyle:{color:'#333'}},
    axisLabel:{show:row===3,interval:4,fontSize:10,color:'#444',margin:6,fontFamily:FONT},
    splitLine:{show:false},
    name:row===3?'Year':'',nameLocation:'middle',nameGap:25,
    nameTextStyle:{fontSize:10.5,color:'#333',fontFamily:FONT}});
  yAxes.push({gridIndex:i,type:'value',min:0,max:100,interval:10,
    axisLine:{show:true,lineStyle:{color:'#333',width:1}},
    axisTick:{show:true,length:4,lineStyle:{color:'#333'}},
    axisLabel:{show:col===0,formatter:v=>(v%50===0?String(v):''),fontSize:10.5,color:'#444',margin:6,fontFamily:FONT},
    splitLine:{show:false},
    name:col===0?'Percentage of total deaths (%)':'',nameLocation:'middle',nameGap:29,nameRotate:90,
    nameTextStyle:{fontSize:10.8,color:'#333',fontFamily:FONT}});
  graphics.push({type:'text',x:left+170.5,y:top-12.5,silent:true,
    style:{text:panelTitles[i],fill:'#333',font:'10.2px '+FONT,textAlign:'center',textVerticalAlign:'middle'}});
  const pct=toPercent(p);
  causeNames.forEach((n,k)=>{
    const visible=Math.max.apply(null,pct[k])>0.15;
    series.push({type:'line',name:n,xAxisIndex:i,yAxisIndex:i,stack:'p'+i,data:pct[k],
      symbol:'none',showSymbol:false,silent:true,
      lineStyle:{width:0.5,color:causeColors[k],opacity:visible?1:0},
      itemStyle:{color:causeColors[k]},
      areaStyle:{color:causeColors[k],opacity:1}});
  });
});
graphics.push({type:'text',x:27,y:7,silent:true,style:{text:'B',fill:'#111',font:'bold 13px '+FONT,textVerticalAlign:'middle'}});
graphics.push({type:'text',x:43,y:7,silent:true,style:{text:'Males',fill:'#111',font:'bold 11px '+FONT,textVerticalAlign:'middle'}});
graphics.push({type:'text',x:45,y:797,silent:true,style:{text:'Cause of death',fill:'#111',font:'bold 10.5px '+FONT,textVerticalAlign:'middle'}});

const legendLeft=[45,269,419,584];
const legends=legendCols.map((d,j)=>({data:d,orient:'vertical',left:legendLeft[j],top:805,
  itemWidth:13,itemHeight:8,itemGap:2,icon:'rect',selectedMode:false,padding:0,
  textStyle:{fontSize:10,color:'#222',fontFamily:FONT,lineHeight:12},
  itemStyle:{borderColor:'#333',borderWidth:0.8}}));

chart.setOption({animation:false,textStyle:{fontFamily:FONT},grid:grids,xAxis:xAxes,yAxis:yAxes,series:series,legend:legends,graphic:graphics});
</script></body></html>
